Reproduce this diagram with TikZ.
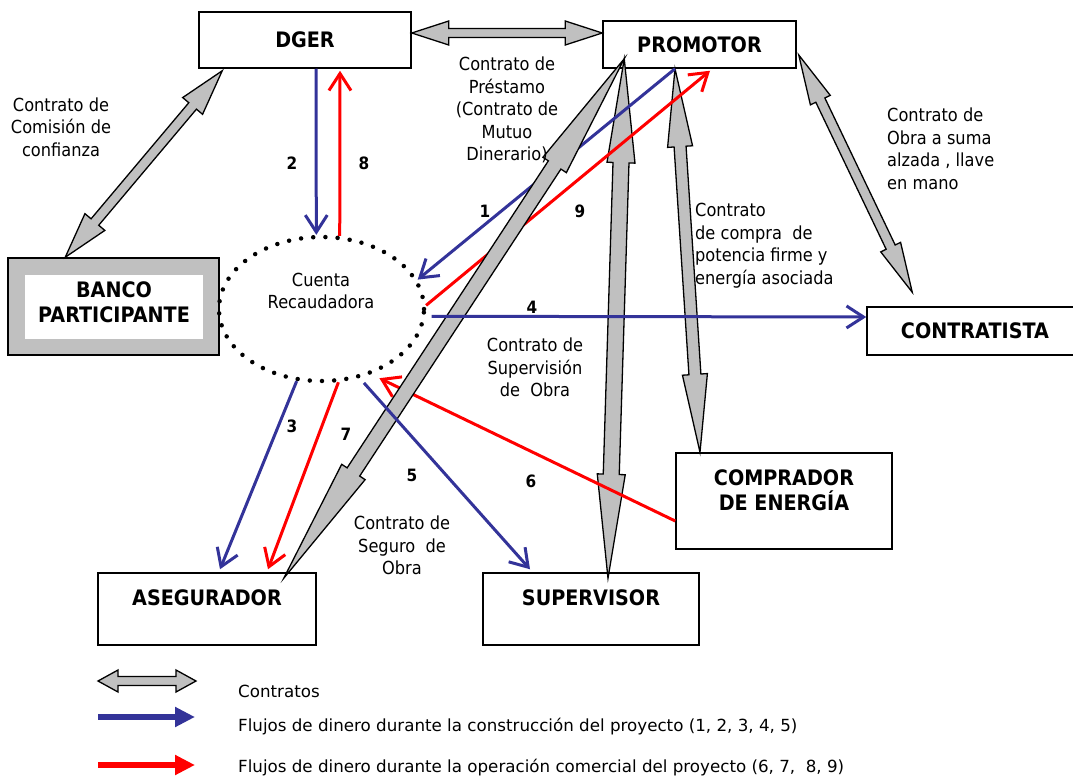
\documentclass[tikz,border=0pt]{standalone}
\usepackage{fontspec}
\setmainfont{DejaVu Sans}[FakeStretch=0.9]
\newfontfamily\legfont{DejaVu Sans}
\usetikzlibrary{shapes.geometric,arrows.meta,calc}
\definecolor{cgray}{RGB}{192,192,192}
\definecolor{cblue}{RGB}{51,51,153}
\definecolor{cred}{RGB}{255,0,0}
% gray double block arrow: from, to, shaft half width, head half width, head length
\newcommand\garrow[5]{%
 \draw[ga] let \p1=(#1), \p2=(#2), \n1={atan2(\y2-\y1,\x2-\x1)}, \n2={veclen(\x2-\x1,\y2-\y1)} in
 [shift={(\p1)}, rotate=\n1]
 (0pt,0pt) -- (#5pt,#4pt) -- (#5pt,#3pt) -- ({\n2*1-#5pt},#3pt) -- ({\n2*1-#5pt},#4pt) -- ({\n2*1},0pt)
 -- ({\n2*1-#5pt},-#4pt) -- ({\n2*1-#5pt},-#3pt) -- (#5pt,-#3pt) -- (#5pt,-#4pt) -- cycle;}
\begin{document}
\begin{tikzpicture}[x=1pt,y=-1pt,
 box/.style={draw, line width=1.5pt, inner sep=0pt, fill=white},
 lab/.style={font=\fontsize{21.3}{25}\selectfont\bfseries, align=center, inner sep=0pt},
 txt/.style={font=\fontsize{18}{22.5}\selectfont, align=center, inner sep=0pt},
 num/.style={font=\fontsize{17}{20}\selectfont\bfseries, inner sep=0pt},
 leg/.style={font=\legfont\fontsize{16.7}{20}\selectfont, anchor=west, inner sep=0pt},
 ga/.style={draw=black, fill=cgray, line width=1.3pt, line join=miter},
 bflow/.style={draw=cblue, line width=3pt, -{Straight Barb[length=17pt,width=22pt]}},
 rflow/.style={draw=cred, line width=3pt, -{Straight Barb[length=17pt,width=22pt]}},
 legb/.style={line width=6pt, -{Triangle[length=20pt,width=19pt]}}
]
\useasboundingbox (0,0) rectangle (1073,776);

% boxes
\node[box, lab, minimum width=212, minimum height=56] (dger) at (305,40) {DGER};
\node[box, lab, minimum width=193, minimum height=47] (promotor) at (699.5,44.5) {PROMOTOR};
\node[box, lab, minimum width=216, minimum height=48] (contratista) at (975,331) {CONTRATISTA};
\node[draw, line width=1.5pt, fill=cgray, inner sep=0pt, minimum width=211, minimum height=97] (banco) at (113.5,306.5) {};
\node[fill=white, inner sep=0pt, minimum width=178, minimum height=64] (bancoin) at (114,307) {};
\node[lab] (bancot) at (114,302) {BANCO\\PARTICIPANTE};
\node[box, minimum width=218, minimum height=72] (aseg) at (207,609) {};
\node[lab] (asegt) at (207,598) {ASEGURADOR};
\node[box, minimum width=216, minimum height=72] (supervisor) at (591,609) {};
\node[lab] (supervisort) at (591,598) {SUPERVISOR};
\node[box, minimum width=216, minimum height=96] (comprador) at (784,501) {};
\node[lab] (compradort) at (784,490) {COMPRADOR\\DE ENERGÍA};

% cuenta recaudadora
\node[ellipse, draw, line width=4.5pt, line cap=round, dash pattern=on 0pt off 12.2pt,
      minimum width=205, minimum height=144, inner sep=0pt] (cuenta) at (321.5,309) {};
\node[txt] (cuentat) at (321,291) {Cuenta\\Recaudadora};

% end points of the gray contract arrows
\coordinate (a1) at ([yshift=7pt]dger.east);
\coordinate (a2) at ([yshift=11.5pt]promotor.west);
\coordinate (b1) at ([xshift=24pt,yshift=-2pt]dger.south west);
\coordinate (b2) at ([xshift=58pt]banco.north west);
\coordinate (c1) at ([xshift=2pt,yshift=-10.5pt]promotor.east);
\coordinate (c2) at ([xshift=46pt,yshift=14pt]contratista.north west);
\coordinate (d1) at ([xshift=22pt,yshift=10pt]promotor.south west);
\coordinate (d2) at ([xshift=-33pt,yshift=-6pt]aseg.north east);
\coordinate (e2) at ([xshift=17pt,yshift=-6pt]supervisor.north);
\coordinate (f1) at ([xshift=-24.5pt]promotor.south);
\coordinate (f2) at ([xshift=-84pt]comprador.north);

\garrow{a1}{a2}{4.5}{12}{37}
\garrow{b1}{b2}{5}{13}{46}
\garrow{c1}{c2}{5}{11}{50}
\garrow{d1}{e2}{8}{14}{104}
\garrow{f1}{f2}{6}{12.5}{78}

% flows under the promotor-asegurador arrow
\draw[rflow] ([yshift=-20pt]comprador.west) -- ([shift={(3pt,-6pt)}]cuenta.-49);
\draw[bflow] (f1) -- (cuenta.17);
\draw[rflow] (cuenta.2) -- ([xshift=10.5pt,yshift=-2pt]promotor.south);

\garrow{d1}{d2}{7.5}{14}{127}

% flows on top
\draw[bflow] ([xshift=11pt]dger.south) -- (cuenta.94);
\draw[rflow] (cuenta.76) -- ([xshift=35pt,yshift=-2pt]dger.south);
\draw[bflow] ([xshift=6pt]cuenta.-4) -- ([yshift=14pt]contratista.west);
\draw[bflow] (cuenta.-109) -- ([xshift=13pt,yshift=3pt]aseg.north);
\draw[rflow] (cuenta.-77) -- ([xshift=61pt,yshift=3pt]aseg.north);
\draw[bflow] ([yshift=-6pt]cuenta.-58) -- ([xshift=-61pt,yshift=3pt]supervisor.north);

% numbers
\node[num] (n1) at (485,211) {1};
\node[num] (n9) at (580,211) {9};
\node[num] (n2) at (292,163) {2};
\node[num] (n8) at (364,163) {8};
\node[num] (n4) at (532,307) {4};
\node[num] (n3) at (292,426) {3};
\node[num] (n7) at (346,434) {7};
\node[num] (n5) at (412,475) {5};
\node[num] (n6) at (531,481) {6};

% contract texts
\node[txt] (tcom) at (61,127) {Contrato de\\Comisión de\\confianza};
\node[txt] (tpre) at (507,110) {Contrato de\\Préstamo\\(Contrato de\\Mutuo\\Dinerario)};
\node[txt, align=left, anchor=west] (tobra) at (887,149) {Contrato de\\Obra a suma\\alzada , llave\\en mano};
\node[txt, align=left, anchor=west] (tcompra) at (695,245.5) {Contrato\\de compra\ \ de\\potencia firme y\\energía asociada};
\node[txt] (tsup) at (535,367.5) {Contrato de\\Supervisión\\de\ \ Obra};
\node[txt] (tseg) at (402,545.5) {Contrato de\\Seguro\ \ de\\Obra};

% legend
\coordinate (l1) at (98,681);
\coordinate (l2) at (196,681);
\garrow{l1}{l2}{4.5}{11}{20}
\coordinate (lb1) at (98,717);
\coordinate (lb2) at (195,717);
\draw[legb, cblue] (lb1) -- (lb2);
\coordinate (lr1) at (98,765);
\coordinate (lr2) at (195,765);
\draw[legb, cred] (lr1) -- (lr2);
\node[leg] (legc) at (238,691) {Contratos};
\node[leg] (legb) at (238,727) {Flujos de dinero durante la construcción del proyecto (1, 2, 3, 4, 5)};
\node[leg] (legr) at (238,768) {Flujos de dinero durante la operación comercial del proyecto (6, 7,\ \ 8, 9)};
\end{tikzpicture}
\end{document}
